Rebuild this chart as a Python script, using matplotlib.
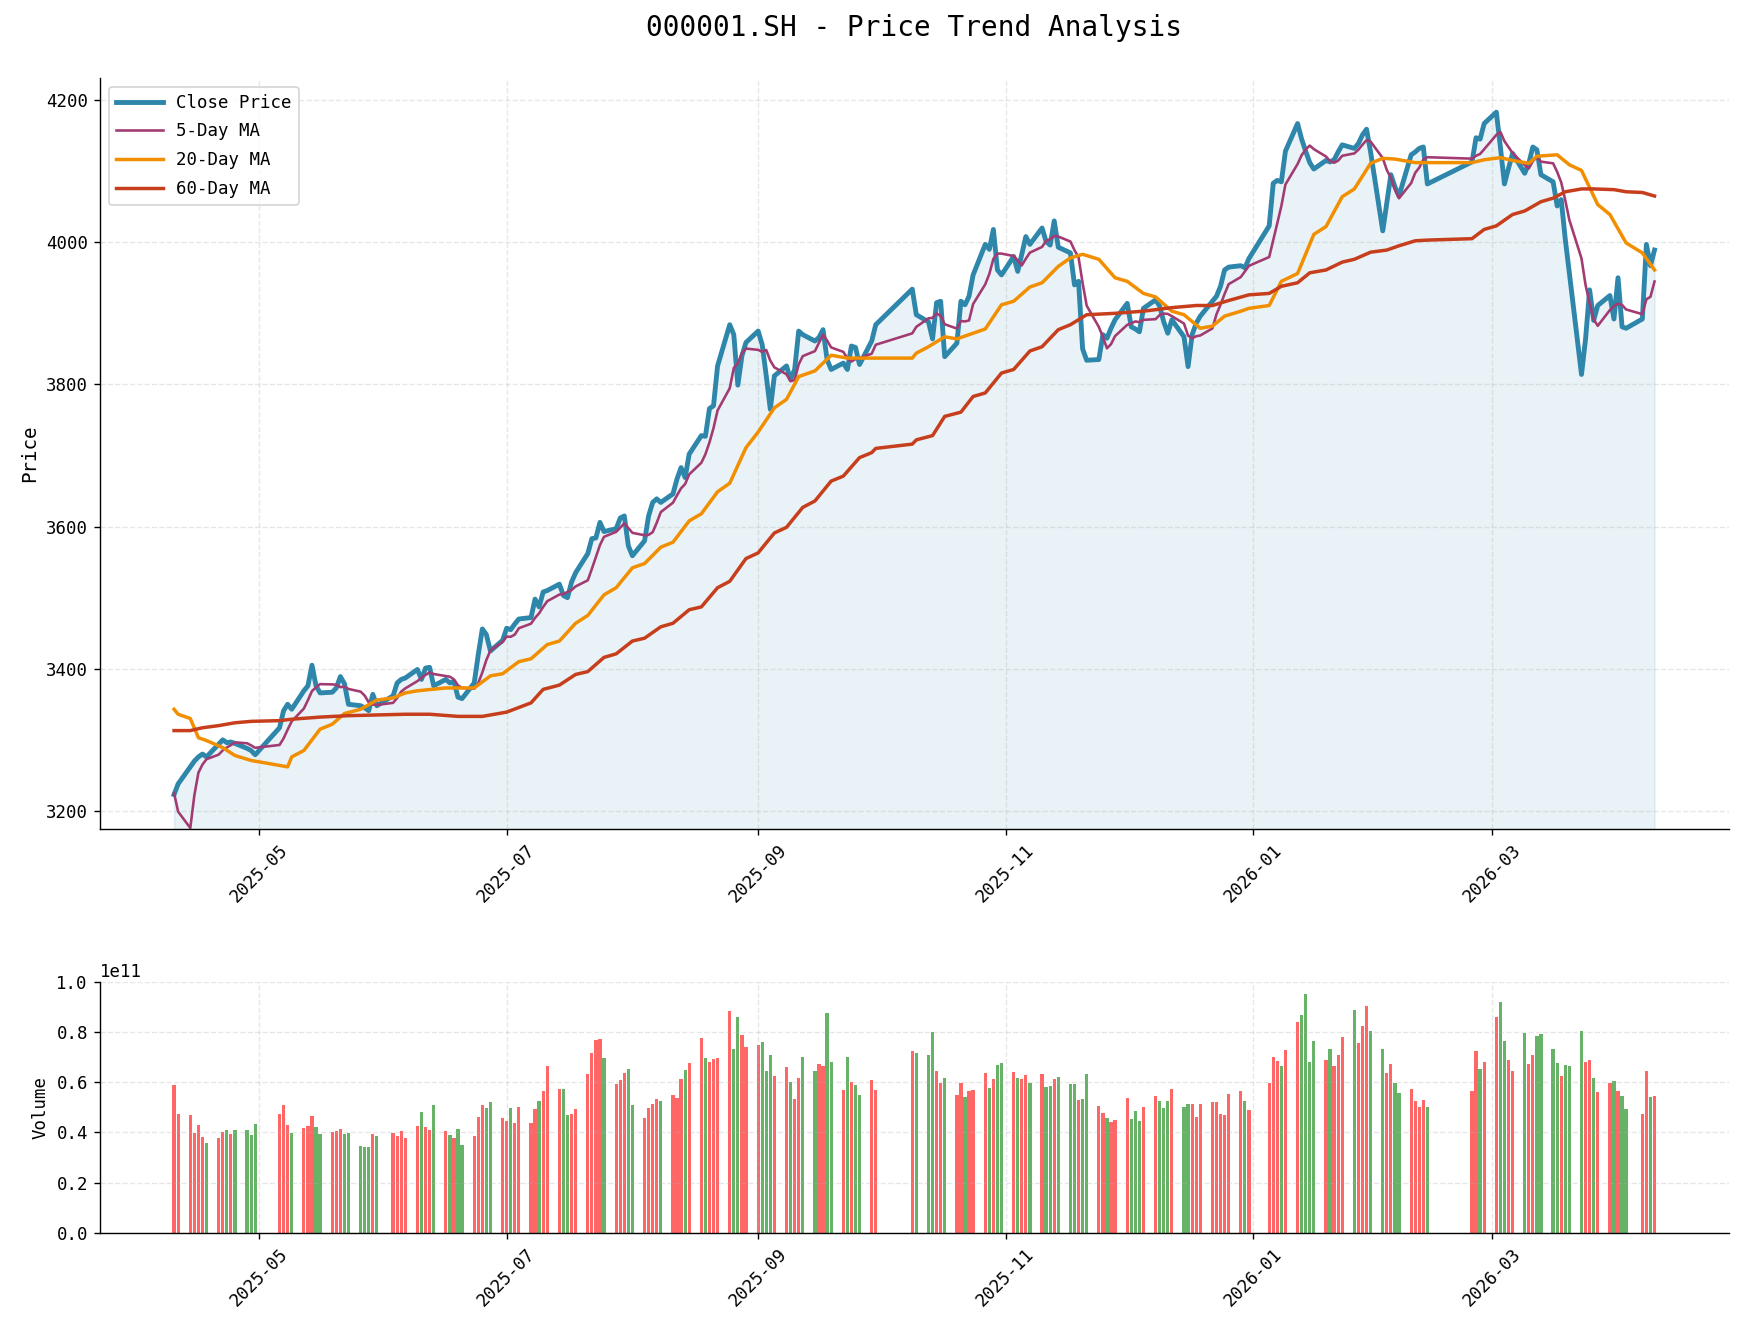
import pandas as pd
import matplotlib
matplotlib.use('Agg')
import matplotlib.pyplot as plt
import matplotlib.dates as mdates

plt.rcParams['font.family'] = ['DejaVu Sans Mono', 'DejaVu Sans']
plt.rcParams['axes.unicode_minus'] = False

# trading calendar (SSE holidays inside the window)
holidays = ['2025-05-01', '2025-05-02', '2025-05-05', '2025-06-02',
            '2025-10-01', '2025-10-02', '2025-10-03', '2025-10-06', '2025-10-07', '2025-10-08',
            '2026-01-01', '2026-01-02',
            '2026-02-16', '2026-02-17', '2026-02-18', '2026-02-19', '2026-02-20', '2026-02-23',
            '2026-04-06']
dates = pd.bdate_range('2025-04-10', '2026-04-10')
dates = dates[~dates.isin(pd.to_datetime(holidays))]

close = [
    3223, 3238, 3262, 3270, 3276, 3280, 3276, 3294, 3300, 3296, 3297, 3295, 3288, 3285, 3279,  # apr
    3317, 3341, 3350, 3343, 3369, 3376, 3405, 3376, 3366, 3367, 3373, 3389, 3379, 3350,
    3348, 3345, 3341, 3364, 3348,  # may
    3362, 3380, 3385, 3387, 3399, 3385, 3401, 3402, 3376, 3385, 3380, 3382, 3360, 3358,
    3380, 3420, 3456, 3448, 3425, 3440,  # jun
    3457, 3455, 3463, 3470, 3472, 3498, 3487, 3508, 3510, 3519, 3503, 3500, 3522, 3535,
    3562, 3583, 3584, 3606, 3593, 3597, 3612, 3615, 3573,  # jul
    3559, 3580, 3615, 3634, 3639, 3634, 3646, 3667, 3683, 3669, 3702, 3728, 3727, 3766,
    3770, 3826, 3884, 3870, 3799, 3840, 3859,  # aug
    3875, 3856, 3812, 3765, 3812, 3826, 3807, 3821, 3875, 3870, 3861, 3866, 3877, 3835,
    3821, 3830, 3821, 3854, 3852, 3828, 3861, 3884,  # sep
    3934, 3898, 3888, 3864, 3915, 3917, 3839, 3858, 3917, 3912, 3924, 3954, 3997, 3990,
    4018, 3961, 3954,  # oct
    3980, 3959, 3983, 4008, 3997, 4020, 4001, 3996, 4030, 3993, 3985, 3940, 3945, 3850,
    3834, 3835, 3870, 3865, 3879, 3891,  # nov
    3914, 3881, 3878, 3874, 3907, 3919, 3910, 3888, 3872, 3891, 3867, 3825, 3870, 3886,
    3896, 3917, 3924, 3938, 3961, 3965, 3967, 3964, 3977,  # dec
    4023, 4083, 4087, 4085, 4128, 4167, 4145, 4128, 4112, 4103, 4115, 4113, 4116, 4127,
    4137, 4132, 4139, 4151, 4159, 4127,  # jan
    4016, 4055, 4095, 4078, 4065, 4123, 4127, 4132, 4134, 4082, 4113, 4147, 4145, 4167,  # feb
    4183, 4134, 4082, 4104, 4125, 4097, 4111, 4134, 4130, 4095, 4085, 4051, 4060, 4004,
    3957, 3814, 3864, 3933, 3890, 3911, 3925, 3892,  # mar
    3950, 3881, 3879, 3892, 3997, 3967, 3989,  # apr
]

# volume in units of 1e9
volume = [
    59.0, 47.4, 47.0, 39.8, 43.0, 38.2, 35.8, 37.8, 40.2, 41.0, 39.4, 41.0, 41.0, 39.0, 43.4,
    47.4, 51.0, 43.0, 39.8, 41.8, 42.6, 46.6, 42.2, 39.4, 40.2, 40.6, 41.4, 39.4, 39.8,
    34.6, 34.2, 34.2, 39.4, 38.6,
    39.8, 38.6, 40.6, 37.8, 42.6, 48.2, 42.2, 41.0, 51.0, 40.6, 39.0, 37.8, 41.4, 35.0,
    38.6, 46.2, 51.0, 49.8, 52.2, 45.8,
    44.6, 49.8, 43.8, 50.2, 43.8, 49.4, 52.6, 56.6, 66.6, 57.4, 57.4, 47.0, 47.4, 49.4,
    63.4, 71.8, 77.0, 77.4, 69.8, 59.4, 61.0, 63.8, 65.4,
    51.0, 45.8, 49.8, 51.4, 53.4, 52.6, 55.0, 53.8, 61.4, 65.0, 67.8, 77.8, 69.8, 68.2,
    69.4, 69.8, 88.5, 73.4, 86.2, 79.0, 74.2,
    75.0, 76.2, 64.6, 71.0, 62.6, 66.2, 60.2, 53.4, 61.8, 70.2, 64.6, 67.4, 66.6, 87.7,
    68.2, 57.0, 70.2, 60.2, 59.0, 55.0, 61.0, 57.0,
    72.6, 71.8, 71.0, 80.2, 64.6, 59.8, 61.8, 55.0, 59.8, 54.2, 56.6, 57.0, 63.8, 57.8,
    61.4, 67.0, 67.8,
    64.2, 61.8, 61.4, 63.0, 59.8, 63.4, 58.2, 58.6, 61.4, 62.2, 59.4, 59.4, 53.0, 53.4,
    63.4, 50.6, 47.8, 45.8, 44.2, 45.0,
    53.8, 45.4, 48.6, 44.6, 50.2, 54.6, 52.6, 49.8, 52.6, 57.4, 50.2, 51.4, 51.4, 46.2,
    51.4, 52.2, 52.2, 47.4, 47.0, 55.4, 56.6, 52.6, 49.0,
    59.8, 70.2, 68.6, 66.6, 73.0, 84.2, 87.0, 95.3, 68.2, 76.6, 69.0, 73.4, 66.6, 71.0,
    78.2, 88.9, 75.8, 82.6, 90.5, 80.6,
    73.4, 63.8, 67.4, 59.8, 55.8, 57.4, 52.6, 50.2, 53.0, 50.2, 56.6, 72.6, 65.4, 68.2,
    86.2, 92.1, 76.6, 69.0, 64.6, 79.8, 67.4, 71.0, 78.6, 79.4, 73.4, 67.8, 62.6, 67.0,
    66.6, 80.6, 68.2, 69.0, 61.8, 56.2, 59.8, 60.6,
    56.6, 54.6, 49.4, 47.4, 64.6, 54.2, 54.6,
]

# 1 = up day (red), 0 = down day (green)
up = [
    1, 1, 1, 1, 1, 1, 0, 1, 1, 0, 1, 0, 0, 0, 0,
    1, 1, 1, 0, 1, 1, 1, 0, 0, 1, 1, 1, 0, 0, 0, 0, 0, 1, 0,
    1, 1, 1, 1, 1, 0, 1, 1, 0, 1, 0, 1, 0, 0, 1, 1, 1, 0, 0, 1,
    1, 0, 1, 1, 1, 1, 0, 1, 1, 1, 0, 0, 1, 1, 1, 1, 1, 1, 0, 1, 1, 1, 0,
    0, 1, 1, 1, 1, 0, 1, 1, 1, 0, 1, 1, 0, 1, 1, 1, 1, 0, 0, 1, 1,
    1, 0, 0, 0, 1, 1, 0, 1, 1, 0, 0, 1, 1, 0, 0, 1, 0, 1, 0, 0, 1, 1,
    1, 0, 0, 0, 1, 1, 0, 1, 1, 0, 1, 1, 1, 0, 1, 0, 0,
    1, 0, 1, 1, 0, 1, 0, 0, 1, 0, 0, 0, 1, 0, 0, 1, 1, 0, 1, 1,
    1, 0, 0, 0, 1, 1, 0, 0, 0, 1, 0, 0, 1, 1, 1, 1, 1, 1, 1, 1, 1, 0, 1,
    1, 1, 1, 0, 1, 1, 0, 0, 0, 0, 1, 0, 1, 1, 1, 0, 1, 1, 1, 0,
    0, 1, 1, 0, 0, 1, 1, 1, 1, 0, 1, 1, 0, 1,
    1, 0, 0, 1, 1, 0, 1, 1, 0, 0, 0, 0, 1, 0, 0, 0, 1, 1, 0, 1, 1, 0,
    1, 0, 0, 1, 1, 0, 1,
]

# first 5-day MA values (need history before the window)
ma5_head = [3225, 3199, 3176, 3222]

ma20_dates = ['2025-04-10', '2025-04-11', '2025-04-14', '2025-04-16', '2025-04-18', '2025-04-22',
              '2025-04-25', '2025-04-29', '2025-05-08', '2025-05-09', '2025-05-12', '2025-05-16',
              '2025-05-19', '2025-05-22', '2025-05-26', '2025-05-30', '2025-06-03', '2025-06-06',
              '2025-06-09', '2025-06-16', '2025-06-23', '2025-06-27', '2025-06-30', '2025-07-04',
              '2025-07-07', '2025-07-11', '2025-07-14', '2025-07-18', '2025-07-21', '2025-07-25',
              '2025-07-28', '2025-08-01', '2025-08-04', '2025-08-08', '2025-08-11', '2025-08-15',
              '2025-08-18', '2025-08-22', '2025-08-25', '2025-08-29', '2025-09-01', '2025-09-05',
              '2025-09-08', '2025-09-11', '2025-09-15', '2025-09-19', '2025-09-23', '2025-09-30',
              '2025-10-09', '2025-10-10', '2025-10-13', '2025-10-17', '2025-10-20', '2025-10-27',
              '2025-10-31', '2025-11-03', '2025-11-07', '2025-11-10', '2025-11-14', '2025-11-17',
              '2025-11-20', '2025-11-24', '2025-11-28', '2025-12-01', '2025-12-05', '2025-12-08',
              '2025-12-12', '2025-12-15', '2025-12-19', '2025-12-22', '2025-12-25', '2025-12-29',
              '2025-12-31', '2026-01-05', '2026-01-08', '2026-01-12', '2026-01-16', '2026-01-19',
              '2026-01-23', '2026-01-26', '2026-01-30', '2026-02-02', '2026-02-05', '2026-02-10',
              '2026-02-13', '2026-02-24', '2026-02-27', '2026-03-03', '2026-03-06', '2026-03-10',
              '2026-03-12', '2026-03-17', '2026-03-20', '2026-03-23', '2026-03-27', '2026-03-30',
              '2026-04-03', '2026-04-07', '2026-04-10']
ma20 = [3343, 3336, 3330, 3303, 3299, 3289, 3278, 3271, 3262, 3276, 3285, 3315,
        3322, 3337, 3343, 3356, 3359, 3366, 3369, 3373, 3373, 3390, 3393, 3410,
        3414, 3434, 3439, 3464, 3475, 3504, 3514, 3542, 3548, 3571, 3578, 3608,
        3618, 3649, 3661, 3711, 3733, 3767, 3779, 3811, 3819, 3841, 3837, 3837,
        3837, 3844, 3853, 3867, 3864, 3878, 3912, 3917, 3937, 3943, 3966, 3978,
        3983, 3976, 3950, 3945, 3928, 3923, 3903, 3898, 3879, 3882, 3896, 3903,
        3907, 3911, 3945, 3956, 4011, 4022, 4064, 4075, 4111, 4118, 4117, 4112,
        4112, 4112, 4116, 4119, 4115, 4111, 4121, 4123, 4109, 4101, 4053, 4039,
        3999, 3985, 3961]

ma60_dates = ['2025-04-10', '2025-04-14', '2025-04-17', '2025-04-21', '2025-04-25', '2025-04-29',
              '2025-05-06', '2025-05-09', '2025-05-16', '2025-05-23', '2025-05-30', '2025-06-06',
              '2025-06-12', '2025-06-19', '2025-06-25', '2025-07-01', '2025-07-07', '2025-07-10',
              '2025-07-14', '2025-07-18', '2025-07-21', '2025-07-25', '2025-07-28', '2025-08-01',
              '2025-08-04', '2025-08-08', '2025-08-11', '2025-08-15', '2025-08-18', '2025-08-22',
              '2025-08-25', '2025-08-29', '2025-09-01', '2025-09-05', '2025-09-08', '2025-09-12',
              '2025-09-15', '2025-09-19', '2025-09-22', '2025-09-26', '2025-09-29', '2025-09-30',
              '2025-10-09', '2025-10-10', '2025-10-14', '2025-10-17', '2025-10-21', '2025-10-24',
              '2025-10-27', '2025-10-31', '2025-11-03', '2025-11-07', '2025-11-10', '2025-11-14',
              '2025-11-17', '2025-11-21', '2025-11-28', '2025-12-05', '2025-12-12', '2025-12-18',
              '2025-12-22', '2025-12-26', '2025-12-31', '2026-01-05', '2026-01-08', '2026-01-12',
              '2026-01-15', '2026-01-19', '2026-01-23', '2026-01-26', '2026-01-30', '2026-02-03',
              '2026-02-06', '2026-02-10', '2026-02-13', '2026-02-24', '2026-02-27', '2026-03-02',
              '2026-03-06', '2026-03-09', '2026-03-13', '2026-03-16', '2026-03-19', '2026-03-23',
              '2026-03-26', '2026-03-31', '2026-04-03', '2026-04-07', '2026-04-10']
ma60 = [3313, 3313, 3317, 3320, 3324, 3326, 3327, 3329, 3332, 3334, 3335, 3336,
        3336, 3333, 3333, 3339, 3352, 3371, 3377, 3392, 3396, 3416, 3421, 3439,
        3443, 3459, 3464, 3483, 3487, 3514, 3523, 3555, 3563, 3591, 3599, 3627,
        3636, 3664, 3671, 3697, 3704, 3710, 3716, 3722, 3728, 3755, 3761, 3783,
        3788, 3816, 3821, 3847, 3853, 3877, 3884, 3898, 3900, 3903, 3908, 3911,
        3911, 3918, 3926, 3928, 3938, 3943, 3957, 3961, 3972, 3976, 3986, 3989,
        3995, 4002, 4003, 4005, 4018, 4023, 4039, 4044, 4057, 4062, 4071, 4075,
        4075, 4074, 4071, 4070, 4065]

price = pd.Series(close, index=dates)
ma5 = price.rolling(5).mean()
ma5.iloc[:4] = ma5_head

fig, (ax1, ax2) = plt.subplots(2, 1, figsize=(13.944, 10.616),
                               gridspec_kw={'height_ratios': [3, 1]})
fig.subplots_adjust(left=0.0574, right=0.9917, top=0.9412, bottom=0.0711, hspace=0.305)

xlim = (dates[0] - pd.Timedelta(days=18.25), dates[-1] + pd.Timedelta(days=18.25))

# price panel
ax1.set_ylim(3174, 4231)
ax1.plot(dates, price, color='#2E86AB', linewidth=2.8, label='Close Price')
ax1.plot(dates, ma5, color='#A23B72', linewidth=1.5, label='5-Day MA')
ax1.plot(pd.to_datetime(ma20_dates), ma20, color='#F18F01', linewidth=2, label='20-Day MA')
ax1.plot(pd.to_datetime(ma60_dates), ma60, color='#C73E1D', linewidth=2, label='60-Day MA')
ax1.fill_between(dates, price, ax1.get_ylim()[0], color='#2E86AB', alpha=0.1)
ax1.set_title('000001.SH - Price Trend Analysis', fontsize=16, pad=24)
ax1.set_ylabel('Price', fontsize=11)
ax1.legend(loc='upper left', fontsize=10, handlelength=2.7, labelspacing=0.62)
ax1.grid(True, linestyle='--', alpha=0.3)

# volume panel
bar_colors = ['red' if u else 'green' for u in up]
ax2.bar(dates, [v * 1e9 for v in volume], width=0.8, color=bar_colors, alpha=0.6)
ax2.set_ylim(0, 1.0e11)
ax2.set_ylabel('Volume', fontsize=10)
ax2.grid(True, linestyle='--', alpha=0.3)

for ax in (ax1, ax2):
    ax.set_xlim(xlim)
    ax.xaxis.set_major_locator(mdates.MonthLocator(bymonth=[1, 3, 5, 7, 9, 11]))
    ax.xaxis.set_major_formatter(mdates.DateFormatter('%Y-%m'))
    ax.tick_params(axis='x', rotation=45, labelsize=10)
    ax.tick_params(axis='y', labelsize=10)
    ax.spines['top'].set_visible(False)
    ax.spines['right'].set_visible(False)

fig.savefig('out.png', dpi=125)
